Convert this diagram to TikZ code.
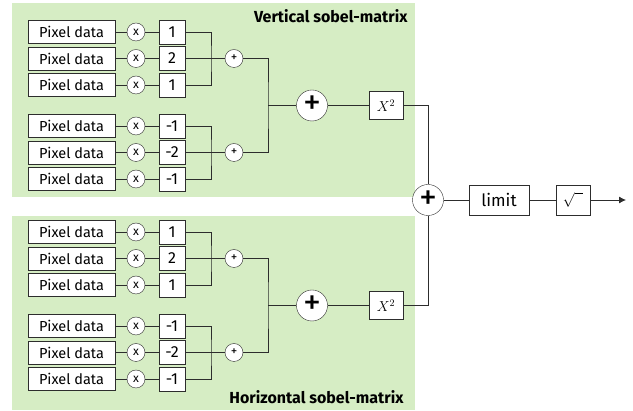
\documentclass[tikz,border=0pt]{standalone}
\usepackage{fontspec}
\setmainfont{Fira Sans}
\usepackage{tikz}
\usetikzlibrary{arrows.meta,calc,positioning}
\definecolor{panelgreen}{RGB}{214,237,196}
\definecolor{linegray}{RGB}{45,45,45}

\begin{document}
\begin{tikzpicture}[x=1pt,y=-1pt,
    pixbox/.style={draw=linegray,fill=white,minimum width=87pt,minimum height=23pt,inner sep=0pt,font=\fontsize{14.5}{16}\selectfont},
    coef/.style={draw=linegray,fill=white,minimum width=26pt,minimum height=24pt,inner sep=0pt,font=\fontsize{16}{18}\selectfont},
    mult/.style={circle,draw=linegray,fill=white,minimum size=18pt,inner sep=0pt,font=\fontsize{12}{14}\selectfont},
    smallsum/.style={circle,draw=linegray,fill=white,minimum size=18pt,inner sep=0pt,font=\fontsize{13}{14}\selectfont},
    bigsum/.style={circle,draw=linegray,fill=white,minimum size=31pt,inner sep=0pt,font=\fontsize{36}{38}\selectfont},
    opbox/.style={draw=linegray,fill=white,minimum height=30pt,inner sep=0pt},
    wire/.style={draw=linegray,line width=0.8pt}]
        \useasboundingbox (0,0) rectangle (633,411);
        % Draw the panels
        \fill[panelgreen] (12,3) rectangle (415,197);
        \fill[panelgreen] (12,216) rectangle (415,410);
        \node[anchor=east,font=\fontsize{16}{18}\selectfont\bfseries] (title-v) at (411,16) {Vertical sobel-matrix};
        \node[anchor=east,font=\fontsize{16}{18}\selectfont\bfseries] (title-h) at (407,397) {Horizontal sobel-matrix};
        % both sobel branches
        \foreach \p/\dy in {v/0,h/200}{
          \foreach \r/\ry/\c in {1/32/1,2/58.5/2,3/85/1,4/126/-1,5/152.5/-2,6/179/-1}{
            \node[pixbox] (pd-\p\r) at (71.5,{\ry+\dy}) {Pixel data};
            \node[mult] (mx-\p\r) at (136,{\ry+\dy}) {x};
            \node[coef] (cf-\p\r) at (172,{\ry+\dy}) {\c};
            \draw[wire] (pd-\p\r) -- (mx-\p\r) -- (cf-\p\r);
          }
          \coordinate (ja-\p) at (211,{58.5+\dy});
          \coordinate (jb-\p) at (211,{152.5+\dy});
          \coordinate (jc-\p) at (268,{105.5+\dy});
          \node[smallsum] (sa-\p) at (234,{58.5+\dy}) {+};
          \node[smallsum] (sb-\p) at (234,{152.5+\dy}) {+};
          \node[bigsum] (bs-\p) at (312,{105.5+\dy}) {+};
          \node[opbox,minimum width=34pt,minimum height=28pt,font=\fontsize{14}{16}\selectfont] (sq-\p) at (386,{105.5+\dy}) {$X^2$};
          % sums
          \draw[wire] (cf-\p1) -| (ja-\p) |- (cf-\p3);
          \draw[wire] (cf-\p2) -- (sa-\p);
          \draw[wire] (cf-\p4) -| (jb-\p) |- (cf-\p6);
          \draw[wire] (cf-\p5) -- (sb-\p);
          \draw[wire] (sa-\p) -| (jc-\p) |- (sb-\p);
          \draw[wire] (jc-\p) -- (bs-\p) -- (sq-\p);
        }
        % output stage
        \node[bigsum] (cs) at (428,200) {+};
        \node[opbox,minimum width=60pt,font=\fontsize{17}{19}\selectfont] (lim) at (499,200) {limit};
        \node[opbox,minimum width=34pt,font=\fontsize{14}{16}\selectfont] (root) at (573,200) {$\sqrt{\phantom{x}}$};
        \coordinate (out) at (626,200);
        \draw[wire] (sq-v) -| (cs);
        \draw[wire] (sq-h) -| (cs);
        \draw[wire] (cs) -- (lim) -- (root);
        \draw[wire,-{Latex[length=7pt,width=7pt]}] (root) -- (out);
      \end{tikzpicture}
\end{document}
